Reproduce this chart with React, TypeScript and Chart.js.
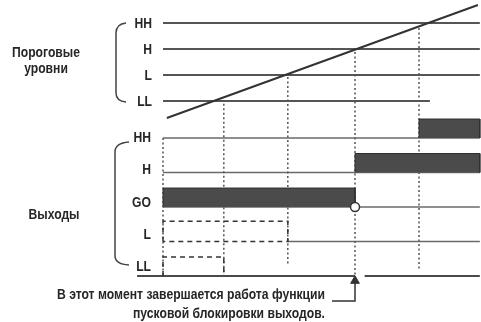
import React, { useEffect, useRef } from 'react';
import { Chart, registerables } from 'chart.js';

Chart.register(...registerables);

// ---- Time axis (arbitrary time units) ----
const timeMin = -5.094;
const timeMax = 9.937;
const timeStart = 0;
const timeEnd = 9.9;
const eventTimes = [1.9, 3.9, 6.0, 8.0]; // ramp passes LL, L, H, HH
const baselineStart = -0.81;
const arrowGapEnd = 6.3;

// ---- Threshold levels (process value) ----
const thresholdNames = ['HH', 'H', 'L', 'LL'];
const thresholdValues = [80, 60, 40, 20];
const thresholdEnds = [9.9, 9.9, 9.9, 8.34];
const pvMin = -150;
const pvMax = 97.7;

// ---- Ramp (process value vs time) ----
const rampTimes = [0.12, 9.84];
const rampValues = [6.9, 93.9];

// ---- Output rows ----
const outputNames = ['HH', 'H', 'GO', 'L', 'LL'];
const outputRows = [5, 4, 3, 2, 1];
const rowMin = -0.333;
const rowMax = 9.0;
const barHeight = 0.55;
const goOn = [0, 6.0];
const hOn = [6.0, 9.9];
const hhOn = [8.0, 9.9];
const lMaskedEnd = 3.9;
const llMaskedEnd = 1.9;
const lMaskTop = 2.59;
const llMaskTop = 1.55;

// ---- Dotted event markers (on output-row axis) ----
const markerTimes = [0, 1.9, 3.9, 6.0, 8.0];
const markerTops = [5, 5.99, 6.77, 7.49, 8.19];
const markerBottoms = [1, 1, 1.32, 1, 1.17];

// ---- Annotation arrow ----
const arrowTime = 6.0;
const arrowTip = 0.86;
const arrowElbow = 0.275;
const arrowTailTime = 5.28;

const groupTop = ['Пороговые', 'уровни'];
const groupBottom = 'Выходы';
const noteLines = ['В этот момент завершается работа функции', 'пусковой блокировки выходов.'];

const FONT = 'bold 14px "Liberation Sans", Arial, sans-serif';

export default function App() {
  const ref = useRef<HTMLCanvasElement>(null);

  useEffect(() => {
    document.body.style.margin = '0';
    const canvas = ref.current;
    if (!canvas) return;

    const datasets: any[] = [];
    const pts = (xs: number[], ys: number[]) => xs.map((x, i) => ({ x, y: ys[i] }));
    const addLine = (data: any[], yAxisID: string, color: string, width: number, dash: number[] = [], order = 10, extra: any = {}) => {
      datasets.push({
        data, yAxisID, borderColor: color, borderWidth: width, borderDash: dash,
        showLine: true, pointRadius: 0, fill: false, order, clip: false, ...extra,
      });
    };

    // threshold lines
    thresholdValues.forEach((v, i) => {
      addLine(pts([timeStart, thresholdEnds[i]], [v, v]), 'yIn', '#555555', 2, [], 12);
    });
    // ramp
    addLine(pts(rampTimes, rampValues), 'yIn', '#333333', 2, [], 4);

    // output row lines
    addLine(pts([timeStart, timeEnd], [outputRows[0], outputRows[0]]), 'yOut', '#6a6a6a', 1.5, [], 12);
    addLine(pts([timeStart, timeEnd], [outputRows[1], outputRows[1]]), 'yOut', '#6a6a6a', 1.5, [], 12);
    addLine(pts([timeStart, timeEnd], [outputRows[2], outputRows[2]]), 'yOut', '#6a6a6a', 1.5, [], 12);
    addLine(pts([lMaskedEnd, timeEnd], [outputRows[3], outputRows[3]]), 'yOut', '#6a6a6a', 1.5, [], 12);
    // bottom baseline (LL row) with gap at arrow
    addLine(pts([baselineStart, arrowTime], [outputRows[4], outputRows[4]]), 'yOut', '#4a4a4a', 2, [], 12);
    addLine(pts([arrowGapEnd, timeEnd], [outputRows[4], outputRows[4]]), 'yOut', '#4a4a4a', 2, [], 12);

    // output bars
    const bar = (range: number[], row: number) => {
      addLine(
        pts([range[0], range[0], range[1], range[1]], [row, row + barHeight, row + barHeight, row]),
        'yOut', '#2e2e2e', 1, [], 6,
        { fill: { target: { value: row } }, backgroundColor: '#4b4b4b' },
      );
    };
    bar(goOn, outputRows[2]);
    bar(hOn, outputRows[1]);
    bar(hhOn, outputRows[0]);

    // masked (dashed) outputs
    addLine(
      pts([timeStart, timeStart, lMaskedEnd, lMaskedEnd, timeStart], [outputRows[3], lMaskTop, lMaskTop, outputRows[3], outputRows[3]]),
      'yOut', '#333333', 1.5, [5, 4], 8,
    );
    addLine(
      pts([timeStart, timeStart, llMaskedEnd, llMaskedEnd], [outputRows[4], llMaskTop, llMaskTop, outputRows[4]]),
      'yOut', '#333333', 1.5, [5, 4], 8,
    );

    // dotted event markers
    markerTimes.forEach((t, i) => {
      addLine(pts([t, t], [markerTops[i], markerBottoms[i]]), 'yOut', '#555555', 1.5, [2, 2.5], 9);
    });

    // start-lock end circle
    datasets.push({
      data: [{ x: goOn[1], y: outputRows[2] }], yAxisID: 'yOut', showLine: false, clip: false,
      pointRadius: 4.5, pointBackgroundColor: '#ffffff', pointBorderColor: '#333333', pointBorderWidth: 1.5, order: 0,
    });

    // annotation arrow
    addLine(pts([arrowTailTime, arrowTime, arrowTime], [arrowElbow, arrowElbow, arrowTip]), 'yOut', '#333333', 1.5, [], 1);
    datasets.push({
      data: [{ x: arrowTime, y: arrowTip }], yAxisID: 'yOut', showLine: false, clip: false,
      pointStyle: 'triangle', pointRadius: 5, pointBackgroundColor: '#333333', pointBorderColor: '#333333', pointBorderWidth: 1, order: 0,
    });

    const textPlugin = {
      id: 'diagramTexts',
      afterDraw(chart: any) {
        const { ctx, scales } = chart;
        const xs = scales.x, yi = scales.yIn, yo = scales.yOut;
        const x0 = xs.getPixelForValue(timeStart);
        ctx.save();
        ctx.fillStyle = '#262626';
        ctx.font = FONT;
        // condensed look: scale horizontally so the long note line spans its width
        const sx = Math.min(1, 268 / ctx.measureText(noteLines[0]).width);
        const draw = (t: string, x: number, y: number, align: CanvasTextAlign, base: CanvasTextBaseline) => {
          ctx.save();
          ctx.translate(x, y);
          ctx.scale(sx, 1);
          ctx.textAlign = align;
          ctx.textBaseline = base;
          ctx.fillText(t, 0, 0);
          ctx.restore();
        };
        thresholdNames.forEach((n, i) => {
          draw(n, x0 - 11, yi.getPixelForValue(thresholdValues[i]) + 1.5, 'right', 'middle');
        });
        const yHH = yo.getPixelForValue(outputRows[0]);
        outputNames.forEach((n, i) => {
          const y = yHH + (yo.getPixelForValue(outputRows[i]) - yHH) * 0.93 + 0.5;
          draw(n, x0 - 12, y, 'right', 'middle');
        });

        // braces
        ctx.strokeStyle = '#444444';
        ctx.lineWidth = 1.5;
        const brace = (top: number, bottom: number, xl: number, xr: number) => {
          ctx.beginPath();
          ctx.moveTo(xr, top);
          ctx.quadraticCurveTo(xl, top + 1, xl, top + 10);
          ctx.lineTo(xl, bottom - 9);
          ctx.quadraticCurveTo(xl, bottom - 1, xr, bottom);
          ctx.stroke();
        };
        brace(yi.getPixelForValue(thresholdValues[0]), yi.getPixelForValue(thresholdValues[3]) + 1, x0 - 47, x0 - 37);
        brace(yHH + 4, yo.getPixelForValue(outputRows[4]) - 11, x0 - 48, x0 - 34);

        // group labels
        draw(groupTop[0], 46, 57, 'center', 'alphabetic');
        draw(groupTop[1], 46, 73, 'center', 'alphabetic');
        draw(groupBottom, 54, 219, 'center', 'alphabetic');

        // note
        draw(noteLines[0], 325, 299, 'right', 'alphabetic');
        draw(noteLines[1], 325, 318, 'right', 'alphabetic');
        ctx.restore();
      },
    };

    const chart = new Chart(canvas, {
      type: 'scatter',
      data: { datasets },
      options: {
        animation: false,
        responsive: false,
        maintainAspectRatio: false,
        devicePixelRatio: 1,
        layout: { padding: 0, autoPadding: false },
        plugins: { legend: { display: false }, tooltip: { enabled: false }, title: { display: false } },
        elements: { line: { tension: 0 } },
        scales: {
          x: { type: 'linear', min: timeMin, max: timeMax, display: false },
          yIn: { type: 'linear', min: pvMin, max: pvMax, display: false },
          yOut: { type: 'linear', min: rowMin, max: rowMax, display: false },
        },
      } as any,
      plugins: [textPlugin],
    });
    return () => chart.destroy();
  }, []);

  return <canvas ref={ref} width={481} height={322} style={{ display: 'block' }} />;
}
